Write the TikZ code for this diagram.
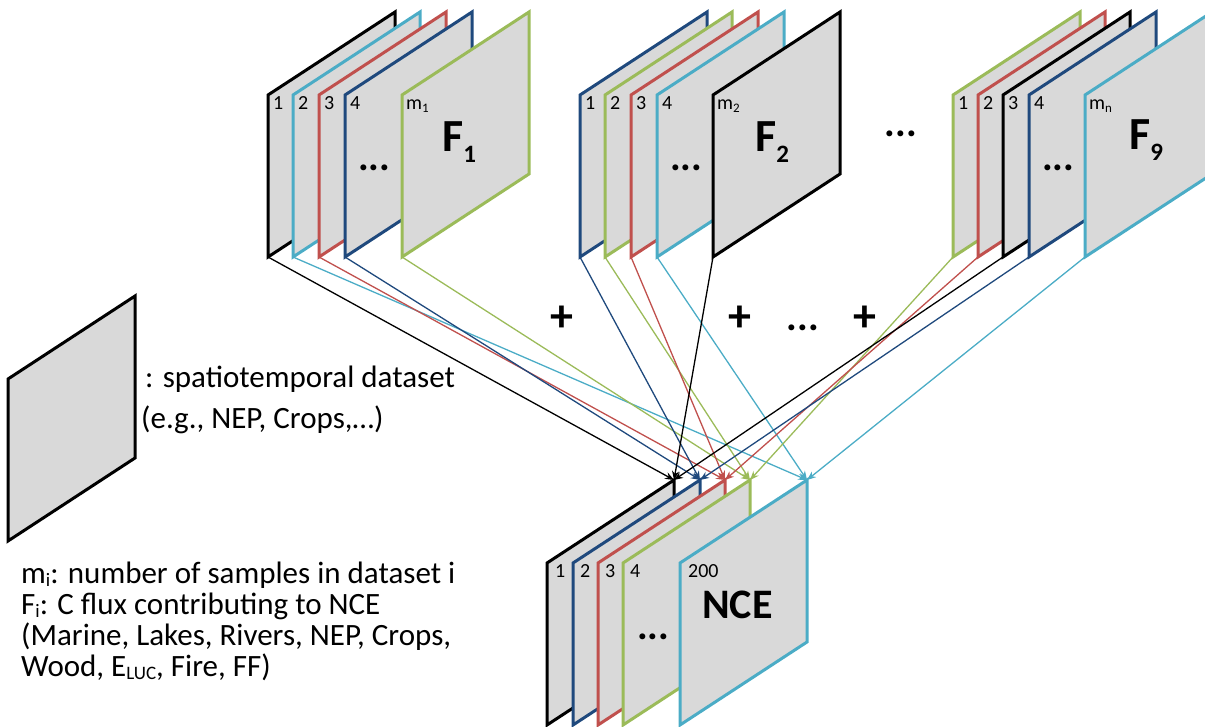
\documentclass[tikz,border=0pt]{standalone}
\usepackage{fontspec}
\setmainfont{Carlito}
\usetikzlibrary{arrows.meta}
\definecolor{cBlack}{HTML}{000000}
\definecolor{cCyan}{HTML}{4BACC6}
\definecolor{cRed}{HTML}{C0504D}
\definecolor{cBlue}{HTML}{1F497D}
\definecolor{cGreen}{HTML}{9BBB59}
\definecolor{sheetgray}{HTML}{D9D9D9}
\tikzset{
  sheet/.style={fill=sheetgray, line width=3pt},
  num/.style={anchor=base west, inner sep=0pt, font=\fontsize{20}{20}\selectfont},
  bigl/.style={anchor=base west, inner sep=0pt, font=\fontsize{46}{46}\selectfont\bfseries},
  dotsty/.style={inner sep=0pt, font=\fontsize{40}{40}\selectfont\bfseries},
  plussty/.style={inner sep=0pt, font=\fontsize{46}{46}\selectfont\bfseries},
  legtext/.style={anchor=base west, inner sep=0pt, font=\fontsize{31}{31}\selectfont},
  flow/.style={line width=1.3pt, -{Stealth[length=9pt,width=7pt]}},
}
\newcommand\lowsub[1]{\raisebox{-3pt}{\fontsize{19}{19}\selectfont #1}}
% name, x, y of bottom-left corner, colour
\newcommand\drawsheet[4]{%
  \draw[sheet, draw=#4] (#2,#3) -- ++(0,-162) -- ++(127,-83) -- ++(0,162) -- cycle;
  \coordinate (#1-bl) at (#2,#3);
  \coordinate (#1-tl) at (#2,{#3-162});
  \coordinate (#1-tr) at ({#2+127},{#3-245});
}
\begin{document}
\begin{tikzpicture}[x=1pt,y=-1pt]
\useasboundingbox (0,0) rectangle (1205,727);

% ---- F1 stack
\drawsheet{f1a}{268}{257}{cBlack}
\drawsheet{f1b}{293}{257}{cCyan}
\drawsheet{f1c}{319}{257}{cRed}
\drawsheet{f1d}{345}{257}{cBlue}
\node[dotsty, anchor=west] (f1dots) at ([shift={(13,73)}]f1d-tl) {...};
\drawsheet{f1m}{402}{257}{cGreen}
\node[num] (f1n1) at ([shift={(5,15)}]f1a-tl) {1};
\node[num] (f1n2) at ([shift={(5,15)}]f1b-tl) {2};
\node[num] (f1n3) at ([shift={(5,15)}]f1c-tl) {3};
\node[num] (f1n4) at ([shift={(5,15)}]f1d-tl) {4};
\node[num] (f1nm) at ([shift={(4,15)}]f1m-tl) {m\raisebox{-3pt}{\fontsize{13}{13}\selectfont 1}};
\node[bigl] (F1) at ([shift={(40,57)}]f1m-tl) {F\raisebox{-11pt}{\fontsize{25}{25}\selectfont 1}};

% ---- F2 stack
\drawsheet{f2a}{580}{257}{cBlue}
\drawsheet{f2b}{605}{257}{cGreen}
\drawsheet{f2c}{631}{257}{cRed}
\drawsheet{f2d}{657}{257}{cCyan}
\node[dotsty, anchor=west] (f2dots) at ([shift={(13,73)}]f2d-tl) {...};
\drawsheet{f2m}{713}{257}{cBlack}
\node[num] (f2n1) at ([shift={(5,15)}]f2a-tl) {1};
\node[num] (f2n2) at ([shift={(5,15)}]f2b-tl) {2};
\node[num] (f2n3) at ([shift={(5,15)}]f2c-tl) {3};
\node[num] (f2n4) at ([shift={(5,15)}]f2d-tl) {4};
\node[num] (f2nm) at ([shift={(4,15)}]f2m-tl) {m\raisebox{-3pt}{\fontsize{13}{13}\selectfont 2}};
\node[bigl] (F2) at ([shift={(42,57)}]f2m-tl) {F\raisebox{-11pt}{\fontsize{25}{25}\selectfont 2}};

% ---- F9 stack
\drawsheet{f9a}{953}{257}{cGreen}
\drawsheet{f9b}{978}{257}{cRed}
\drawsheet{f9c}{1003}{257}{cBlack}
\drawsheet{f9d}{1029}{257}{cBlue}
\node[dotsty, anchor=west] (f9dots) at ([shift={(13,73)}]f9d-tl) {...};
\drawsheet{f9m}{1085}{257}{cCyan}
\node[num] (f9n1) at ([shift={(5,15)}]f9a-tl) {1};
\node[num] (f9n2) at ([shift={(5,15)}]f9b-tl) {2};
\node[num] (f9n3) at ([shift={(5,15)}]f9c-tl) {3};
\node[num] (f9n4) at ([shift={(5,15)}]f9d-tl) {4};
\node[num] (f9nm) at ([shift={(4,15)}]f9m-tl) {m\raisebox{-3pt}{\fontsize{13}{13}\selectfont n}};
\node[bigl] (F9) at ([shift={(44,55)}]f9m-tl) {F\raisebox{-11pt}{\fontsize{25}{25}\selectfont 9}};

% ---- NCE stack
\drawsheet{n1}{547}{725}{cBlack}
\drawsheet{n2}{573}{725}{cBlue}
\drawsheet{n3}{598}{725}{cRed}
\drawsheet{n4}{623}{725}{cGreen}
\node[dotsty, anchor=west] (ndots) at ([shift={(14,74)}]n4-tl) {...};
\drawsheet{n5}{680}{725}{cCyan}
\node[num] (nn1) at ([shift={(8,14)}]n1-tl) {1};
\node[num] (nn2) at ([shift={(7,14)}]n2-tl) {2};
\node[num] (nn3) at ([shift={(7,14)}]n3-tl) {3};
\node[num] (nn4) at ([shift={(7,14)}]n4-tl) {4};
\node[num] (nn5) at ([shift={(8,14)}]n5-tl) {200};
\node[bigl, font=\fontsize{42}{42}\selectfont\bfseries] (NCE) at ([shift={(22,55)}]n5-tl) {NCE};

% ---- operators
\node[dotsty] (topdots) at (901,134) {...};
\node[plussty] (plus1) at (562,319) {+};
\node[plussty] (plus2) at (740,319) {+};
\node[dotsty] (middots) at (803,328) {...};
\node[plussty] (plus3) at (865,319) {+};

% ---- connectors
\draw[flow, cBlack] (f1a-bl) -- (n1-tr);
\draw[flow, cCyan]  (f1b-bl) -- (n5-tr);
\draw[flow, cRed]   (f1c-bl) -- (n3-tr);
\draw[flow, cBlue]  (f1d-bl) -- (n2-tr);
\draw[flow, cGreen] (f1m-bl) -- (n4-tr);
\draw[flow, cBlue]  (f2a-bl) -- (n2-tr);
\draw[flow, cGreen] (f2b-bl) -- (n4-tr);
\draw[flow, cRed]   (f2c-bl) -- (n3-tr);
\draw[flow, cCyan]  (f2d-bl) -- (n5-tr);
\draw[flow, cBlack] (f2m-bl) -- (n1-tr);
\draw[flow, cGreen] (f9a-bl) -- (n4-tr);
\draw[flow, cRed]   (f9b-bl) -- (n3-tr);
\draw[flow, cBlack] (f9c-bl) -- (n1-tr);
\draw[flow, cBlue]  (f9d-bl) -- (n2-tr);
\draw[flow, cCyan]  (f9m-bl) -- (n5-tr);

% ---- legend
\drawsheet{leg}{8}{541}{cBlack}
\node[legtext] (leg1) at (145,388) {: spatiotemporal dataset};
\node[legtext] (leg2) at (141,428) {(e.g., NEP, Crops,…)};
\node[legtext] (note1) at (21,583) {m\lowsub{i}: number of samples in dataset i};
\node[legtext] (note2) at (21,614) {F\lowsub{i}: C flux contributing to NCE};
\node[legtext] (note3) at (21,645) {(Marine, Lakes, Rivers, NEP, Crops,};
\node[legtext] (note4) at (21,676) {Wood, E\lowsub{LUC}, Fire, FF)};
\end{tikzpicture}
\end{document}
